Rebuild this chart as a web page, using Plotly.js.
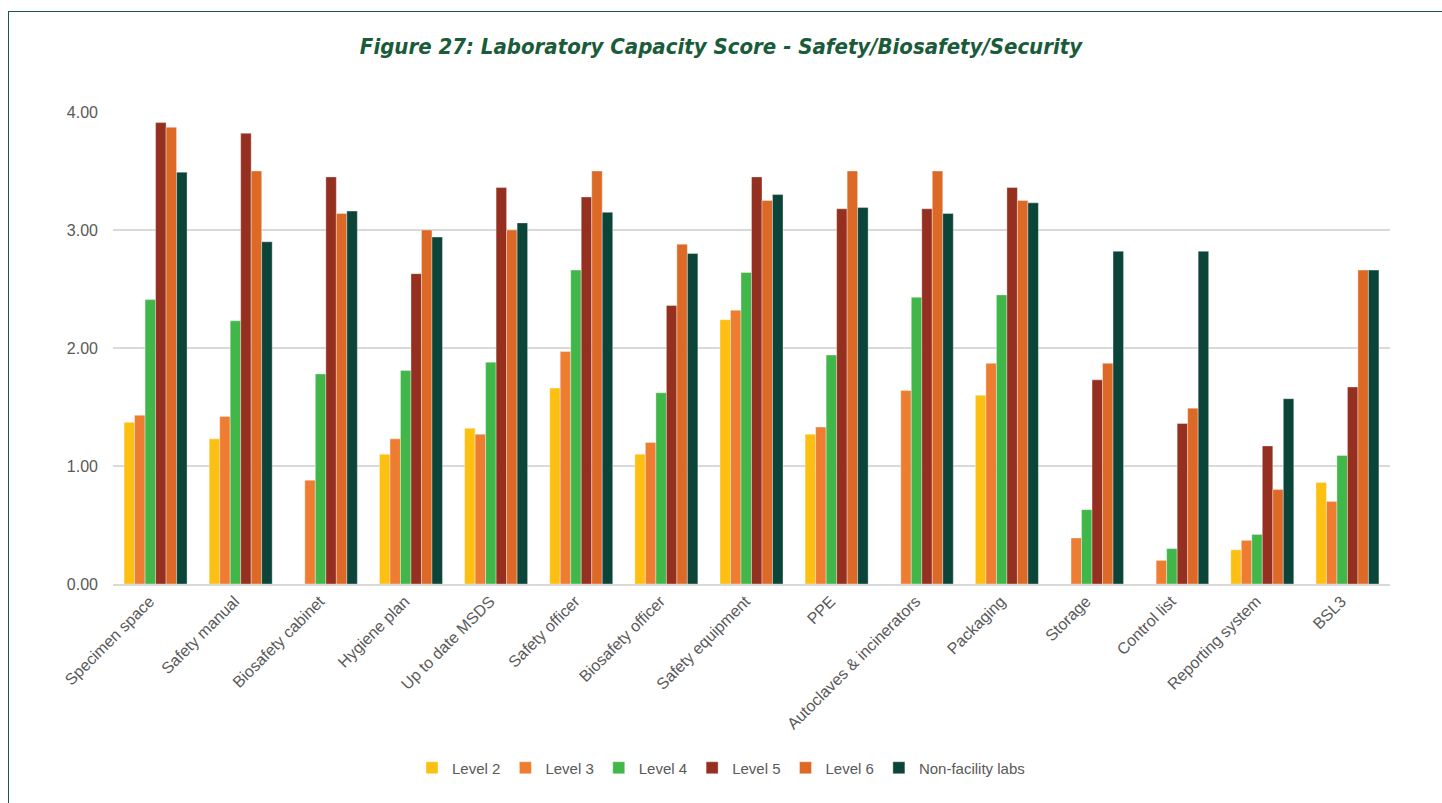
<!DOCTYPE html>
<html>
<head>
<meta charset="utf-8">
<script src="https://cdn.plot.ly/plotly-3.0.1.min.js"></script>
<style>
  html, body { margin: 0; padding: 0; background: #fff; }
  #frame { position: absolute; left: 8px; top: 11px; width: 1460px; height: 820px; border: 1.5px solid #1d5a3c; box-sizing: border-box; pointer-events: none; z-index: 5; }
  #chart { width: 1442px; height: 803px; }
</style>
</head>
<body>
<div id="frame"></div>
<div id="chart"></div>
<script>
const categories = ["Specimen space", "Safety manual", "Biosafety cabinet", "Hygiene plan", "Up to date MSDS", "Safety officer", "Biosafety officer", "Safety equipment", "PPE", "Autoclaves & incinerators", "Packaging", "Storage", "Control list", "Reporting system", "BSL3"];

const level2 = [1.37, 1.23, 0, 1.10, 1.32, 1.66, 1.10, 2.24, 1.27, 0, 1.60, 0, 0, 0.29, 0.86];
const level3 = [1.43, 1.42, 0.88, 1.23, 1.27, 1.97, 1.20, 2.32, 1.33, 1.64, 1.87, 0.39, 0.20, 0.37, 0.70];
const level4 = [2.41, 2.23, 1.78, 1.81, 1.88, 2.66, 1.62, 2.64, 1.94, 2.43, 2.45, 0.63, 0.30, 0.42, 1.09];
const level5 = [3.91, 3.82, 3.45, 2.63, 3.36, 3.28, 2.36, 3.45, 3.18, 3.18, 3.36, 1.73, 1.36, 1.17, 1.67];
const level6 = [3.87, 3.50, 3.14, 3.00, 3.00, 3.50, 2.88, 3.25, 3.50, 3.50, 3.25, 1.87, 1.49, 0.80, 2.66];
const nonFacility = [3.49, 2.90, 3.16, 2.94, 3.06, 3.15, 2.80, 3.30, 3.19, 3.14, 3.23, 2.82, 2.82, 1.57, 2.66];

const seriesNames = ["Level 2", "Level 3", "Level 4", "Level 5", "Level 6", "Non-facility labs"];
const seriesValues = [level2, level3, level4, level5, level6, nonFacility];
const seriesColors = ["#FCBF12", "#EE7D31", "#41B649", "#953020", "#DD6927", "#0B4438"];

const tickFont = "'Liberation Sans', Arial, sans-serif";

const traces = seriesNames.map((name, i) => ({
  type: "bar",
  name: name,
  x: categories,
  y: seriesValues[i],
  marker: { color: seriesColors[i], line: { color: "rgba(255,255,255,0.6)", width: 0.6 } },
  hovertemplate: "%{x}<br>" + name + ": %{y:.2f}<extra></extra>"
}));

const layout = {
  width: 1442,
  height: 803,
  paper_bgcolor: "#ffffff",
  plot_bgcolor: "#ffffff",
  margin: { l: 113, r: 52, t: 112, b: 219 },
  barmode: "group",
  bargap: 0.26,
  bargroupgap: 0,
  title: {
    text: "<b><i>Figure 27: Laboratory Capacity Score - Safety/Biosafety/Security</i></b>",
    font: { family: "'DejaVu Sans Condensed', sans-serif", size: 22, color: "#1a5b3a" },
    x: 0.5, xref: "container", xanchor: "center",
    y: 1 - 46 / 803, yref: "container", yanchor: "middle"
  },
  xaxis: {
    type: "category",
    tickangle: -45,
    tickfont: { family: tickFont, size: 16, color: "#595959" },
    showgrid: false,
    showline: true,
    linecolor: "#d9d9d9",
    linewidth: 1.5,
    ticks: "",
    ticklabelshift: -6,
    automargin: false
  },
  yaxis: {
    range: [0, 4],
    dtick: 1,
    tickformat: ".2f",
    tickfont: { family: tickFont, size: 16, color: "#595959" },
    gridcolor: "#d9d9d9",
    gridwidth: 1.5,
    zeroline: false,
    showline: false,
    ticks: "",
    ticklabelstandoff: 14,
    automargin: false
  },
  showlegend: true,
  legend: {
    orientation: "h",
    x: 0.5, xanchor: "center", xref: "container",
    y: 1 - 768 / 803, yanchor: "middle", yref: "container",
    font: { family: tickFont, size: 15, color: "#595959" },
    itemwidth: 30,
    traceorder: "normal"
  },
  font: { family: tickFont }
};

Plotly.newPlot("chart", traces, layout, { displayModeBar: false, responsive: false });
</script>
</body>
</html>
